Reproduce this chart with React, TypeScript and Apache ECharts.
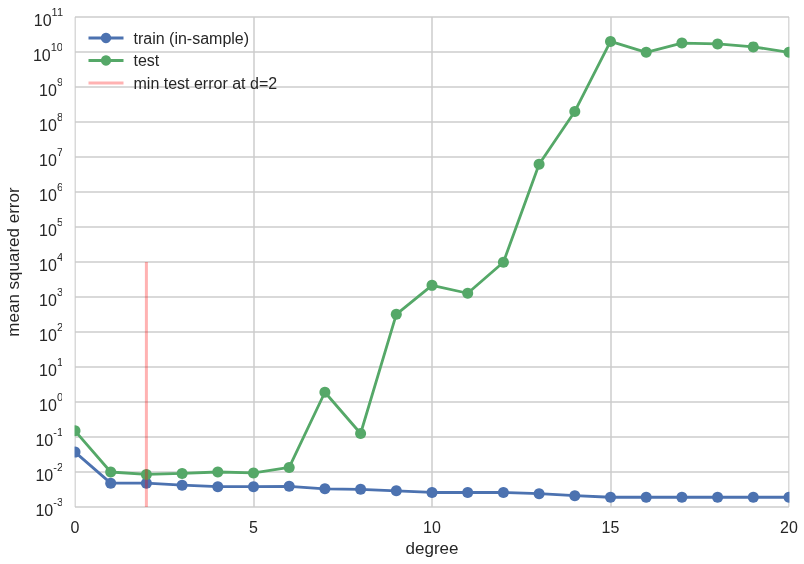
import React, { useEffect, useRef } from "react";
import * as echarts from "echarts";

const degrees = [0, 1, 2, 3, 4, 5, 6, 7, 8, 9, 10, 11, 12, 13, 14, 15, 16, 17, 18, 19, 20];
const trainMSE = [0.037, 0.0048, 0.0048, 0.0042, 0.0038, 0.0038, 0.0039, 0.0033, 0.0032, 0.0029, 0.0026, 0.0026, 0.0026, 0.0024, 0.0021, 0.0019, 0.0019, 0.0019, 0.0019, 0.0019, 0.0019];
const testMSE = [0.15, 0.010, 0.0085, 0.0091, 0.010, 0.0094, 0.0135, 1.9, 0.126, 320, 2150, 1280, 9800, 6.2e6, 2.0e8, 2.0e10, 9.8e9, 1.8e10, 1.7e10, 1.4e10, 9.8e9];
const minDegree = 2;
const minLineRange = [1e-3, 1e4];
const seriesNames = ["train (in-sample)", "test", "min test error at d=2"];

const FONT = "'Liberation Sans', Arial, sans-serif";
const TEXT = "#262626";
const GRID = "#cccccc";

export default function App() {
  const ref = useRef<HTMLDivElement>(null);
  useEffect(() => {
    if (!ref.current) return;
    const chart = echarts.init(ref.current, undefined, { renderer: "svg" });
    chart.setOption({
      animation: false,
      textStyle: { fontFamily: FONT },
      grid: { left: 75, right: 15, top: 17, bottom: 57, containLabel: false, outerBoundsMode: "none" },
      legend: {
        orient: "vertical",
        left: 82,
        top: 25,
        itemWidth: 35,
        itemHeight: 13,
        itemGap: 6.5,
        lineStyle: { width: 3 },
        textStyle: { fontSize: 16, color: TEXT, fontFamily: FONT, padding: [0, 0, 0, 5] },
        data: seriesNames,
      },
      graphic: [
        { type: "rect", shape: { x: 62, y: 17, width: 12.5, height: 490 }, style: { fill: "#ffffff" }, z: 100, silent: true },
        { type: "rect", shape: { x: 789.5, y: 17, width: 14.5, height: 490 }, style: { fill: "#ffffff" }, z: 100, silent: true },
      ],
      xAxis: {
        type: "value",
        min: 0,
        max: 20,
        interval: 5,
        name: "degree",
        nameLocation: "middle",
        nameGap: 32,
        nameTextStyle: { fontSize: 17, color: TEXT, fontFamily: FONT },
        axisLine: { show: false },
        axisTick: { show: false },
        axisLabel: { fontSize: 16, color: TEXT, margin: 12, fontFamily: FONT },
        splitLine: { show: true, lineStyle: { color: GRID, width: 1.5 } },
      },
      yAxis: {
        type: "log",
        logBase: 10,
        min: 1e-3,
        max: 1e11,
        interval: 1,
        name: "mean squared error",
        nameLocation: "middle",
        nameGap: 50,
        nameTextStyle: { fontSize: 17, color: TEXT, fontFamily: FONT },
        axisLine: { show: false },
        axisTick: { show: false },
        axisLabel: {
          margin: 12,
          formatter: (v: number) => {
            const e = Math.round(Math.log10(v));
            return "{b|10}{s|" + e + "}";
          },
          rich: {
            b: { fontSize: 16, color: TEXT, fontFamily: FONT, verticalAlign: "bottom", lineHeight: 22 },
            s: { fontSize: 11, color: TEXT, fontFamily: FONT, verticalAlign: "top", lineHeight: 22 },
          },
        },
        splitLine: { show: true, lineStyle: { color: GRID, width: 1.5 } },
      },
      series: [
        {
          name: seriesNames[0],
          type: "line",
          data: degrees.map((d, i) => [d, trainMSE[i]]),
          symbol: "circle",
          symbolSize: 11,
          itemStyle: { color: "#4C72B0" },
          lineStyle: { color: "#4C72B0", width: 2.8 },
          z: 3,
        },
        {
          name: seriesNames[1],
          type: "line",
          data: degrees.map((d, i) => [d, testMSE[i]]),
          symbol: "circle",
          symbolSize: 11,
          itemStyle: { color: "#55A868" },
          lineStyle: { color: "#55A868", width: 2.8 },
          z: 4,
        },
        {
          name: seriesNames[2],
          type: "line",
          data: minLineRange.map((v) => [minDegree, v]),
          symbol: "none",
          itemStyle: { color: "rgba(255,0,0,0.3)", opacity: 0 },
          lineStyle: { color: "rgba(255,0,0,0.3)", width: 3 },
          z: 5,
        },
      ],
    });
    return () => chart.dispose();
  }, []);
  return <div ref={ref} style={{ position: "fixed", left: 0, top: 0, width: 804, height: 564 }} />;
}
